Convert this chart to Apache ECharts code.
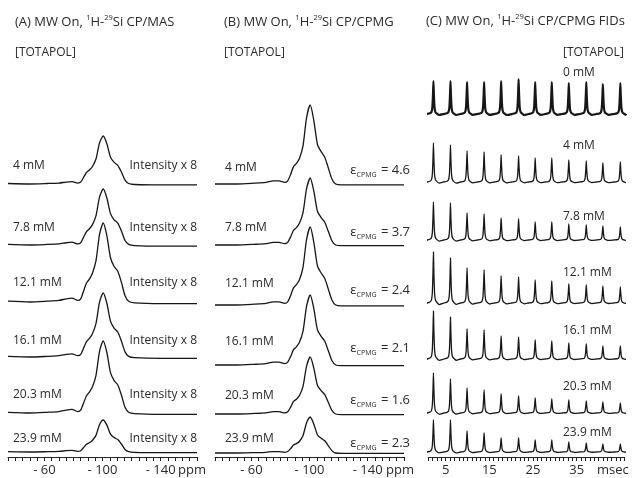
<!DOCTYPE html>
<html>
<head>
<meta charset="utf-8">
<script src="https://cdn.jsdelivr.net/npm/echarts@6/dist/echarts.min.js"></script>
<style>
  html, body { margin: 0; padding: 0; background: #fff; }
  #chart { width: 636px; height: 478px; }
</style>
</head>
<body>
<div id="chart"></div>
<script>
  // ---------- data ----------
  var concLabels = ['4 mM', '7.8 mM', '12.1 mM', '16.1 mM', '20.3 mM', '23.9 mM'];
  var fidLabels = ['0 mM', '4 mM', '7.8 mM', '12.1 mM', '16.1 mM', '20.3 mM', '23.9 mM'];
  var epsCpmg = ['4.6', '3.7', '2.4', '2.1', '1.6', '2.3'];
  var ppmTicks = [-60, -100, -140];
  var msecTicks = [5, 15, 25, 35];

  // 29Si line shape (ppm, relative intensity)
  var ppmA = [-35, -50, -62, -70, -75, -79, -83, -85, -87, -89, -91, -93, -95.5, -98, -100.5, -103, -105.5, -108, -110.5, -113, -115.5, -118, -122, -140, -165];
  var shapeA = [0.01, 0.0, 0.01, 0.02, 0.04, 0.05, 0.02, 0.04, 0.14, 0.24, 0.29, 0.36, 0.52, 0.86, 1.0, 0.84, 0.56, 0.45, 0.39, 0.25, 0.08, 0.01, -0.01, -0.02, -0.02];
  var ppmB = [-35, -50, -62, -70, -75, -79, -83, -85, -87, -89, -91, -93, -95.5, -98, -100.5, -103, -105.5, -108, -110.5, -113, -115.5, -118, -122, -140, -165];
  var shapeB = [0.0, 0.0, 0.01, 0.02, 0.04, 0.04, 0.02, 0.04, 0.12, 0.22, 0.26, 0.32, 0.48, 0.84, 1.0, 0.8, 0.5, 0.41, 0.34, 0.2, 0.06, 0.0, -0.01, -0.01, -0.01];

  // peak heights (a.u.)
  var heightA = [48, 56, 79, 64, 72, 32];
  var heightB = [79, 67, 78, 70, 57, 36];

  // CPMG echo train
  var echoTimes = [2.2, 6.1, 9.9, 13.8, 17.7, 21.7, 25.5, 29.3, 33.2, 37.2, 41.0, 45.0];
  var echoOffsets = [-1.5, -0.8, -0.45, -0.25, -0.1, 0, 0.1, 0.25, 0.45, 0.8, 1.3];
  var echoShape = [0.0, 0.02, 0.06, 0.2, 0.6, 1.0, 0.6, 0.2, 0.06, 0.01, -0.03];
  var echo0 = [33, 33, 32, 32, 33, 35, 32, 32, 31, 32, 30, 31];
  var echo4 = [39, 37, 31, 30, 27, 26, 24, 24, 22, 21, 19, 20];
  var echo78 = [38, 37, 27, 26, 22, 21, 18, 18, 16, 15, 14, 13];
  var echo121 = [51, 45, 35, 33, 27, 26, 23, 22, 19, 18, 17, 16];
  var echo161 = [48, 42, 30, 29, 23, 22, 19, 18, 16, 15, 13, 13];
  var echo203 = [40, 34, 25, 23, 19, 17, 15, 14, 13, 12, 11, 10];
  var echo239 = [32, 32, 21, 19, 14, 14, 12, 12, 10, 9, 8, 8];
  var echoHeights = [echo0, echo4, echo78, echo121, echo161, echo203, echo239];

  // ---------- layout ----------
  var baseA = [184, 245, 302, 357, 413, 452];
  var baseB = [184, 245, 305, 365, 414, 453];
  var baseC = [114, 182, 240, 303, 359, 413, 452];
  var labelYA = [166, 228, 283, 341, 395, 439];
  var labelYB = [168, 228, 284, 342, 396, 439];
  var epsY = [170, 232, 290, 348, 400, 443];
  var labelYC = [73, 146, 217, 273, 331, 387, 433];

  var FONT = '"Open Sans", "Noto Sans", sans-serif';
  var TXT = '#2a2a2a';
  var LINE = '#161616';

  var chart = echarts.init(document.getElementById('chart'));

  var grids = [], xAxes = [], yAxes = [], series = [], graphics = [];

  function addTrace(left, width, base, xmin, xmax, inverse, data, lw, smooth) {
    var i = grids.length;
    grids.push({ left: left, width: width, top: base - 90, height: 100 });
    xAxes.push({ gridIndex: i, type: 'value', min: xmin, max: xmax, inverse: inverse, show: false });
    yAxes.push({ gridIndex: i, type: 'value', min: -10, max: 90, show: false });
    series.push({
      type: 'line', xAxisIndex: i, yAxisIndex: i, data: data,
      showSymbol: false, smooth: smooth, clip: false, silent: true,
      lineStyle: { color: LINE, width: lw || 1.3 }
    });
  }

  function addAxis(left, width, xmin, xmax, inverse, fmt) {
    var i = grids.length;
    grids.push({ left: left, width: width, top: 430, bottom: 21 });
    yAxes.push({ gridIndex: i, type: 'value', min: 0, max: 1, show: false });
    xAxes.push({
      gridIndex: i, type: 'value', min: xmin, max: xmax, inverse: inverse, interval: inverse ? 5 : 1,
      axisLine: { onZero: false, lineStyle: { color: '#222', width: 1 } },
      axisTick: { length: 4, lineStyle: { color: '#222', width: 1 } },
      splitLine: { show: false },
      axisLabel: { interval: 0, hideOverlap: false, margin: 7, fontFamily: FONT, fontSize: 13, color: TXT, formatter: fmt }
    });
  }

  function specData(ppm, shape, h) {
    return ppm.map(function (p, k) { return [p, shape[k] * h]; });
  }

  function fidData(heights) {
    var pts = [[1, 0]];
    echoTimes.forEach(function (t, k) {
      echoOffsets.forEach(function (o, j) { pts.push([t + o, echoShape[j] * heights[k]]); });
    });
    pts.push([46.3, 0]);
    return pts;
  }

  function text(x, y, str, opt) {
    opt = opt || {};
    graphics.push({
      type: 'text', x: x, y: y, silent: true,
      style: {
        text: str, fill: opt.color || TXT, font: (opt.size || 12) + 'px ' + FONT,
        textAlign: opt.align || 'left', textVerticalAlign: 'middle', rich: opt.rich
      }
    });
  }

  var titleRich = {
    t: { fontFamily: FONT, fontSize: 13, color: TXT, lineHeight: 16 },
    s: { fontFamily: FONT, fontSize: 7.5, color: TXT, lineHeight: 16, verticalAlign: 'top', padding: [0, 0, 7, 0] }
  };
  function titleStr(head, tail) {
    return '{t|' + head + ' MW On, }{s|1}{t|H-}{s|29}{t|Si ' + tail + '}';
  }

  // panel A
  heightA.forEach(function (h, k) {
    addTrace(8, 189, baseA[k], -165, -35, true, specData(ppmA, shapeA, h), 1.3, 0.25);
    text(13, labelYA[k], concLabels[k]);
    text(197, labelYA[k], 'Intensity x 8', { align: 'right' });
  });
  addAxis(8, 189, -165, -35, true, function (v) { return ppmTicks.indexOf(v) >= 0 ? '- ' + (-v) : ''; });
  text(15, 22, titleStr('(A)', 'CP/MAS'), { rich: titleRich });
  text(15, 53, '[TOTAPOL]');
  text(178, 470, 'ppm', { size: 13 });

  // panel B
  var epsRich = {
    e: { fontFamily: FONT, fontSize: 13, color: '#5457a8', lineHeight: 16 },
    c: { fontFamily: FONT, fontSize: 7, color: '#5457a8', lineHeight: 16, verticalAlign: 'bottom', padding: [6, 1, 0, 0] }
  };
  heightB.forEach(function (h, k) {
    addTrace(215, 189, baseB[k], -165, -35, true, specData(ppmB, shapeB, h), 1.3, 0.25);
    text(225, labelYB[k], concLabels[k]);
    text(410, epsY[k], '{e|\u03b5}{c|CPMG}{e| = ' + epsCpmg[k] + '}', { align: 'right', rich: epsRich });
  });
  addAxis(215, 189, -165, -35, true, function (v) { return ppmTicks.indexOf(v) >= 0 ? '- ' + (-v) : ''; });
  text(224, 22, titleStr('(B)', 'CP/CPMG'), { rich: titleRich });
  text(224, 53, '[TOTAPOL]');
  text(386, 470, 'ppm', { size: 13 });

  // panel C
  echoHeights.forEach(function (hs, k) {
    addTrace(428.2, 196.5, baseC[k], 1, 46, false, fidData(hs), k === 0 ? 2.2 : 1.3, 0.12);
    text(563, labelYC[k], fidLabels[k]);
  });
  addAxis(428.2, 196.5, 1, 46, false, function (v) { return msecTicks.indexOf(v) >= 0 ? String(v) : ''; });
  text(426, 21, titleStr('(C)', 'CP/CPMG FIDs'), { rich: titleRich });
  text(563, 53, '[TOTAPOL]');
  text(597, 470, 'msec', { size: 13 });

  chart.setOption({
    animation: false,
    backgroundColor: '#fff',
    grid: grids,
    xAxis: xAxes,
    yAxis: yAxes,
    series: series,
    graphic: graphics
  });
</script>
</body>
</html>
